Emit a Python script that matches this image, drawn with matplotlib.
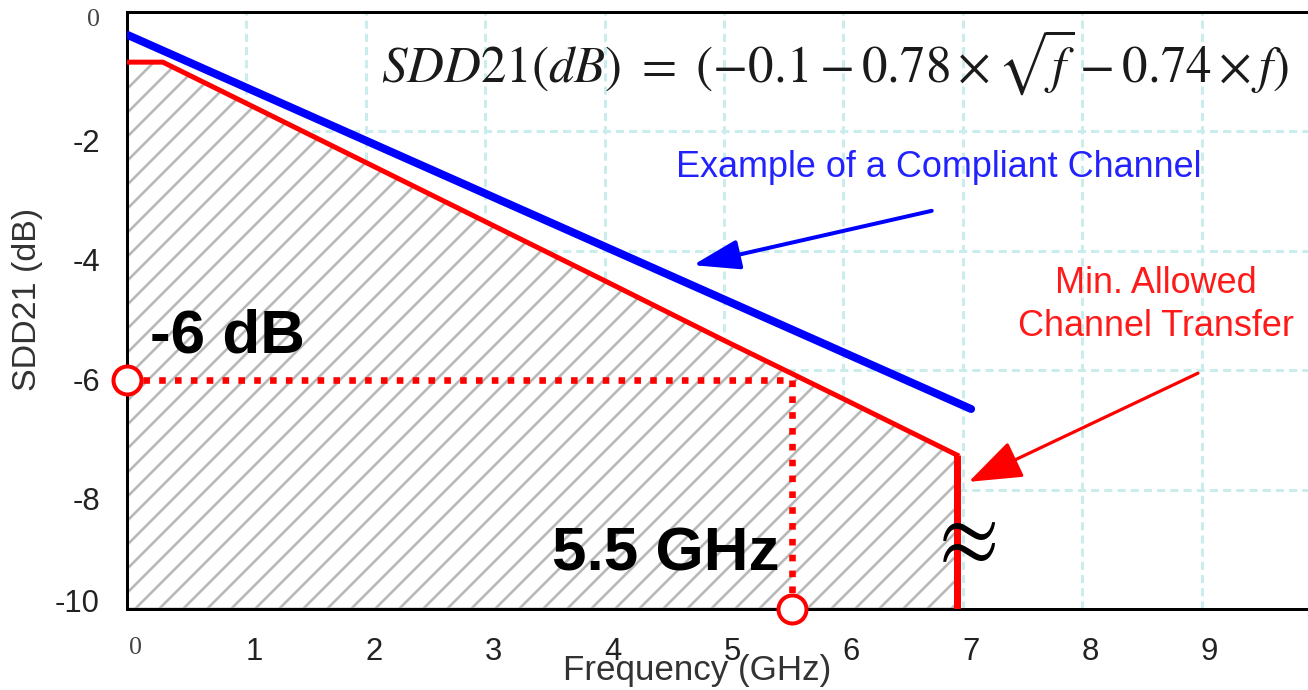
import numpy as np
import matplotlib.pyplot as plt
from matplotlib import font_manager
from matplotlib.transforms import ScaledTranslation

plt.rcParams['font.family'] = ['Liberation Sans', 'DejaVu Sans']
plt.rcParams['mathtext.fontset'] = 'stix'
plt.rcParams['hatch.linewidth'] = 1.3

# 数据 (GHz, dB)
freq_min = [0.0, 0.3, 1.0, 2.0, 3.0, 4.0, 5.0, 6.0, 6.95]
sdd21_min = [-0.84, -0.84, -1.53, -2.52, -3.51, -4.50, -5.50, -6.48, -7.42]
freq_example = [0.0, 7.07]
sdd21_example = [-0.38, -6.65]
mark_freq = 5.57    # "5.5 GHz" 手画标记的位置
mark_db = -6.16     # "-6 dB" 手画标记的位置
x_ticks = list(range(10))
y_ticks = [0, -2, -4, -6, -8, -10]

DPI = 144  # 1pt = 2px
fig = plt.figure(figsize=(1308 / DPI, 690 / DPI), dpi=DPI)
ax = fig.add_axes([127 / 1308, 81 / 690, 1182 / 1308, 597 / 690])
ax.set_xlim(0, 9.9)
ax.set_ylim(-10, 0)

ax.set_xticks(x_ticks, labels=[str(v) for v in x_ticks])
ax.set_yticks(y_ticks, labels=[str(v) for v in y_ticks])
ax.tick_params(length=0, labelsize=15.5, labelcolor='#222222')
ax.tick_params(axis='x', pad=14)
ax.tick_params(axis='y', pad=13.5)
ax.grid(True, color='#c9ecec', lw=1.5, linestyle=(0, (2.7, 1.7)))
ax.set_axisbelow(True)
for s in ['left', 'bottom', 'top']:
    ax.spines[s].set_linewidth(1.5)
ax.spines['right'].set_visible(False)

# 刻度文字在原图里相对网格线有偏移
for lab in ax.get_xticklabels():
    lab.set_transform(lab.get_transform() + ScaledTranslation(4 / 72, 0, fig.dpi_scale_trans))
for lab, v in zip(ax.get_yticklabels(), y_ticks):
    dy = -4.5
    if v == -10:
        dy = 4.5
    elif v == 0:
        dy = -3
    lab.set_transform(lab.get_transform() + ScaledTranslation(0, dy / 72, fig.dpi_scale_trans))
for lab in [ax.get_xticklabels()[0], ax.get_yticklabels()[0]]:
    lab.set_fontfamily(['Liberation Serif', 'DejaVu Serif'])
    lab.set_fontsize(13)
    lab.set_color('#444444')

# 阴影区
ax.fill_between(freq_min, sdd21_min, -10, facecolor='white', edgecolor='#b8b8b8',
                hatch='//', lw=1.5, zorder=1)
ax.plot(freq_min, sdd21_min, color='#ff0000', lw=2.5, zorder=4)
ax.plot([freq_min[-1], freq_min[-1]], [sdd21_min[-1], -10], color='#ff0000', lw=3.5,
        solid_capstyle='butt', zorder=4)
ax.plot(freq_example, sdd21_example, color='#0000ff', lw=4, solid_capstyle='round', zorder=4)

# -6 dB / 5.5 GHz 标记
dots = (0, (1, 1.4))
ax.plot([0, mark_freq], [mark_db, mark_db], color='#ff0000', lw=3.3, linestyle=dots,
        dash_capstyle='butt', zorder=5)
ax.plot([mark_freq, mark_freq], [mark_db, -10], color='#ff0000', lw=3.3, linestyle=dots,
        dash_capstyle='butt', zorder=5)
ax.plot([0, mark_freq], [mark_db, -10], linestyle='none', marker='o', ms=14, mfc='white',
        mec='#ff0000', mew=2, clip_on=False, zorder=6)

# 原图是窄体粗字，有窄体就用窄体
installed = {f.name for f in font_manager.fontManager.ttflist}
if 'Liberation Sans Narrow' in installed:
    big_font, big_size = 'Liberation Sans Narrow', 35
else:
    big_font, big_size = 'Liberation Sans', 31
ax.text(0.19, -5.70, '-6 dB', fontsize=big_size, fontweight='bold', family=big_font, zorder=6)
ax.text(3.56, -9.35, '5.5 GHz', fontsize=big_size, fontweight='bold', family=big_font, zorder=6)

ax.text(5.93, -0.84, r'$SDD21(dB)\ =\ (-0.1-0.78\times\sqrt{f}-0.74\times f)$',
        fontsize=25.5, ha='center', va='center', color='#1a1a1a')
ax.text(6.80, -2.60, 'Example of a Compliant Channel', color='#2222ff', fontsize=18,
        ha='center', va='center')
ax.text(8.62, -4.91, 'Min. Allowed\nChannel Transfer', color='#ff1a1a', fontsize=18,
        ha='center', va='center', linespacing=1.3)
ax.text(6.99, -8.83, r'$\approx$', fontsize=44, ha='center', va='center', zorder=6)

ax.annotate('', xy=(4.74, -4.24), xytext=(6.74, -3.33),
            arrowprops=dict(arrowstyle='-|>,head_length=1.0,head_width=0.32',
                            color='#0000ff', lw=2, mutation_scale=20, shrinkA=0, shrinkB=0))
ax.annotate('', xy=(7.05, -7.87), xytext=(8.97, -6.05),
            arrowprops=dict(arrowstyle='-|>,head_length=1.15,head_width=0.42',
                            color='#ff0000', lw=1.6, mutation_scale=20, shrinkA=0, shrinkB=0))

ax.set_xlabel('Frequency (GHz)', fontsize=17.5, color='#333333')
ax.xaxis.set_label_coords(0.482, -0.119)
ax.xaxis.label.set_va('baseline')
ax.set_ylabel('SDD21 (dB)', fontsize=17, color='#333333')
ax.yaxis.set_label_coords(-0.084, 0.519)
ax.yaxis.label.set_va('center')

fig.savefig('out.png', dpi=DPI)
